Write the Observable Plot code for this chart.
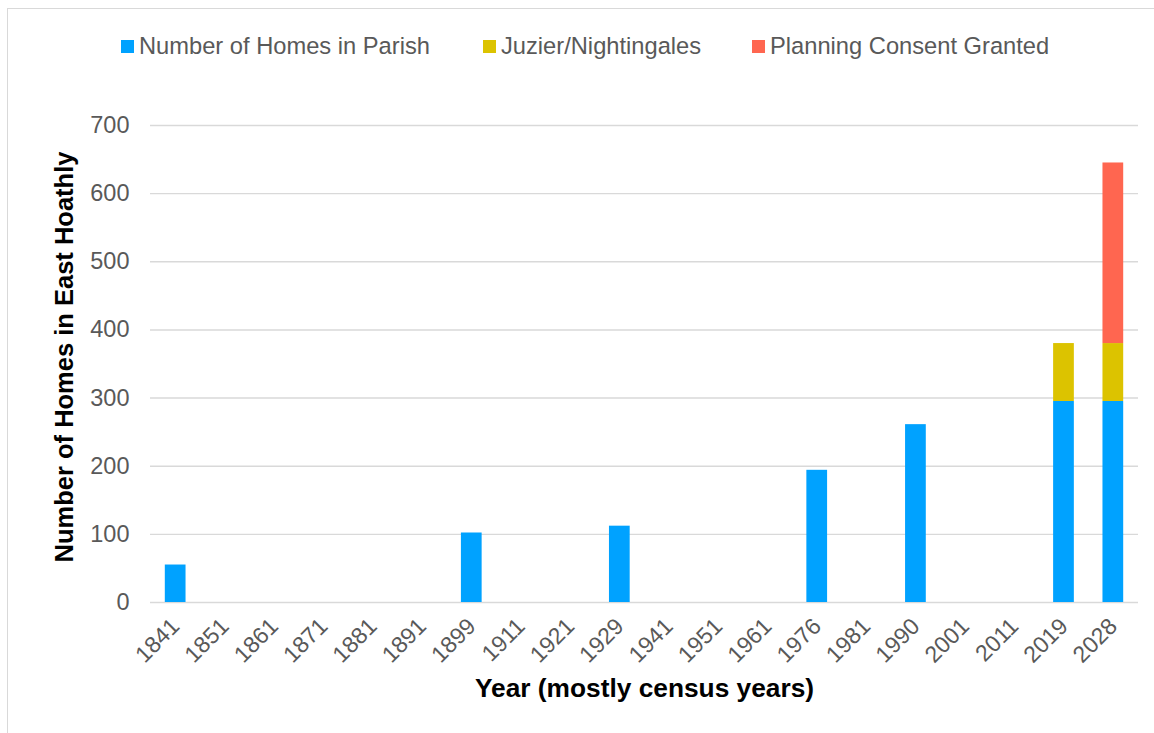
<!DOCTYPE html>
<html>
<head>
<meta charset="utf-8">
<script src="https://cdn.jsdelivr.net/npm/d3@7"></script>
<script src="https://cdn.jsdelivr.net/npm/@observablehq/plot@0.6"></script>
<style>
  html, body { margin: 0; padding: 0; background: #fff; }
  body { width: 1154px; height: 733px; position: relative; overflow: hidden; font-family: "Liberation Sans", Arial, sans-serif; }
  #frame { position: absolute; left: 7px; top: 8px; width: 1300px; height: 900px; border: 1px solid #d9d9d9; box-sizing: border-box; }
  #chart { position: absolute; left: 0; top: 0; }
  #legend { position: absolute; top: 30px; left: 0; width: 1154px; height: 32px; }
  .item { position: absolute; top: 0; display: flex; align-items: center; font-size: 23.7px; color: #595959; white-space: nowrap; line-height: 32px; }
  .sw { width: 13px; height: 13px; margin-right: 5px; display: inline-block; }
</style>
</head>
<body>
<div id="frame"></div>
<div id="chart"></div>
<div id="legend"></div>
<script>
// Data
const years = ["1841","1851","1861","1871","1881","1891","1899","1911","1921","1929","1941","1951","1961","1976","1981","1990","2001","2011","2019","2028"];
const homesInParish = [55,0,0,0,0,0,102,0,0,112,0,0,0,194,0,261,0,0,295,295];
const juzierNightingales = [0,0,0,0,0,0,0,0,0,0,0,0,0,0,0,0,0,0,85,85];
const planningConsent = [0,0,0,0,0,0,0,0,0,0,0,0,0,0,0,0,0,0,0,265];
const seriesNames = ["Number of Homes in Parish","Juzier/Nightingales","Planning Consent Granted"];
const seriesColors = ["#00A2FF","#DCC300","#FF6650"];
const yTicks = [0,100,200,300,400,500,600,700];
const yTitle = "Number of Homes in East Hoathly";
const xTitle = "Year (mostly census years)";

const seriesValues = [homesInParish, juzierNightingales, planningConsent];
const table = [];
seriesNames.forEach((s, si) => {
  years.forEach((y, i) => {
    table.push({year: y, series: s, value: seriesValues[si][i]});
  });
});

const chart = Plot.plot({
  width: 1154,
  height: 733,
  marginLeft: 150,
  marginRight: 16,
  marginTop: 125,
  marginBottom: 131,
  style: {fontFamily: "'Liberation Sans', Arial, sans-serif", background: "transparent", overflow: "visible"},
  x: {domain: years, paddingInner: 0.58, paddingOuter: 0.3, round: false, label: null},
  y: {domain: [0, 700], label: null},
  color: {domain: seriesNames, range: seriesColors},
  marks: [
    Plot.gridY(yTicks, {stroke: "#d9d9d9", strokeOpacity: 1, strokeWidth: 1.4}),
    Plot.barY(table.filter(d => d.value > 0), {x: "year", y: "value", fill: "series", order: seriesNames}),
    Plot.axisY(yTicks, {tickSize: 0, tickPadding: 21, fill: "#595959", fontSize: 23.5, label: null}),
    Plot.axisX({tickSize: 0, tickRotate: -45, tickPadding: 20, fill: "#595959", fontSize: 23, label: null}),
    Plot.text([yTitle], {frameAnchor: "left", rotate: -90, textAnchor: "middle", dx: -86, dy: -7, fontWeight: "bold", fontSize: 25.5, fill: "#000"}),
    Plot.text([xTitle], {frameAnchor: "bottom", dy: 94, fontWeight: "bold", fontSize: 26.3, fill: "#000"})
  ]
});
document.getElementById("chart").appendChild(chart);

// Legend
const legend = document.getElementById("legend");
const legendX = [121, 483, 752];
seriesNames.forEach((s, i) => {
  const it = document.createElement("div");
  it.className = "item";
  it.style.left = legendX[i] + "px";
  const sw = document.createElement("span");
  sw.className = "sw";
  sw.style.background = seriesColors[i];
  it.appendChild(sw);
  it.appendChild(document.createTextNode(s));
  legend.appendChild(it);
});
</script>
</body>
</html>
